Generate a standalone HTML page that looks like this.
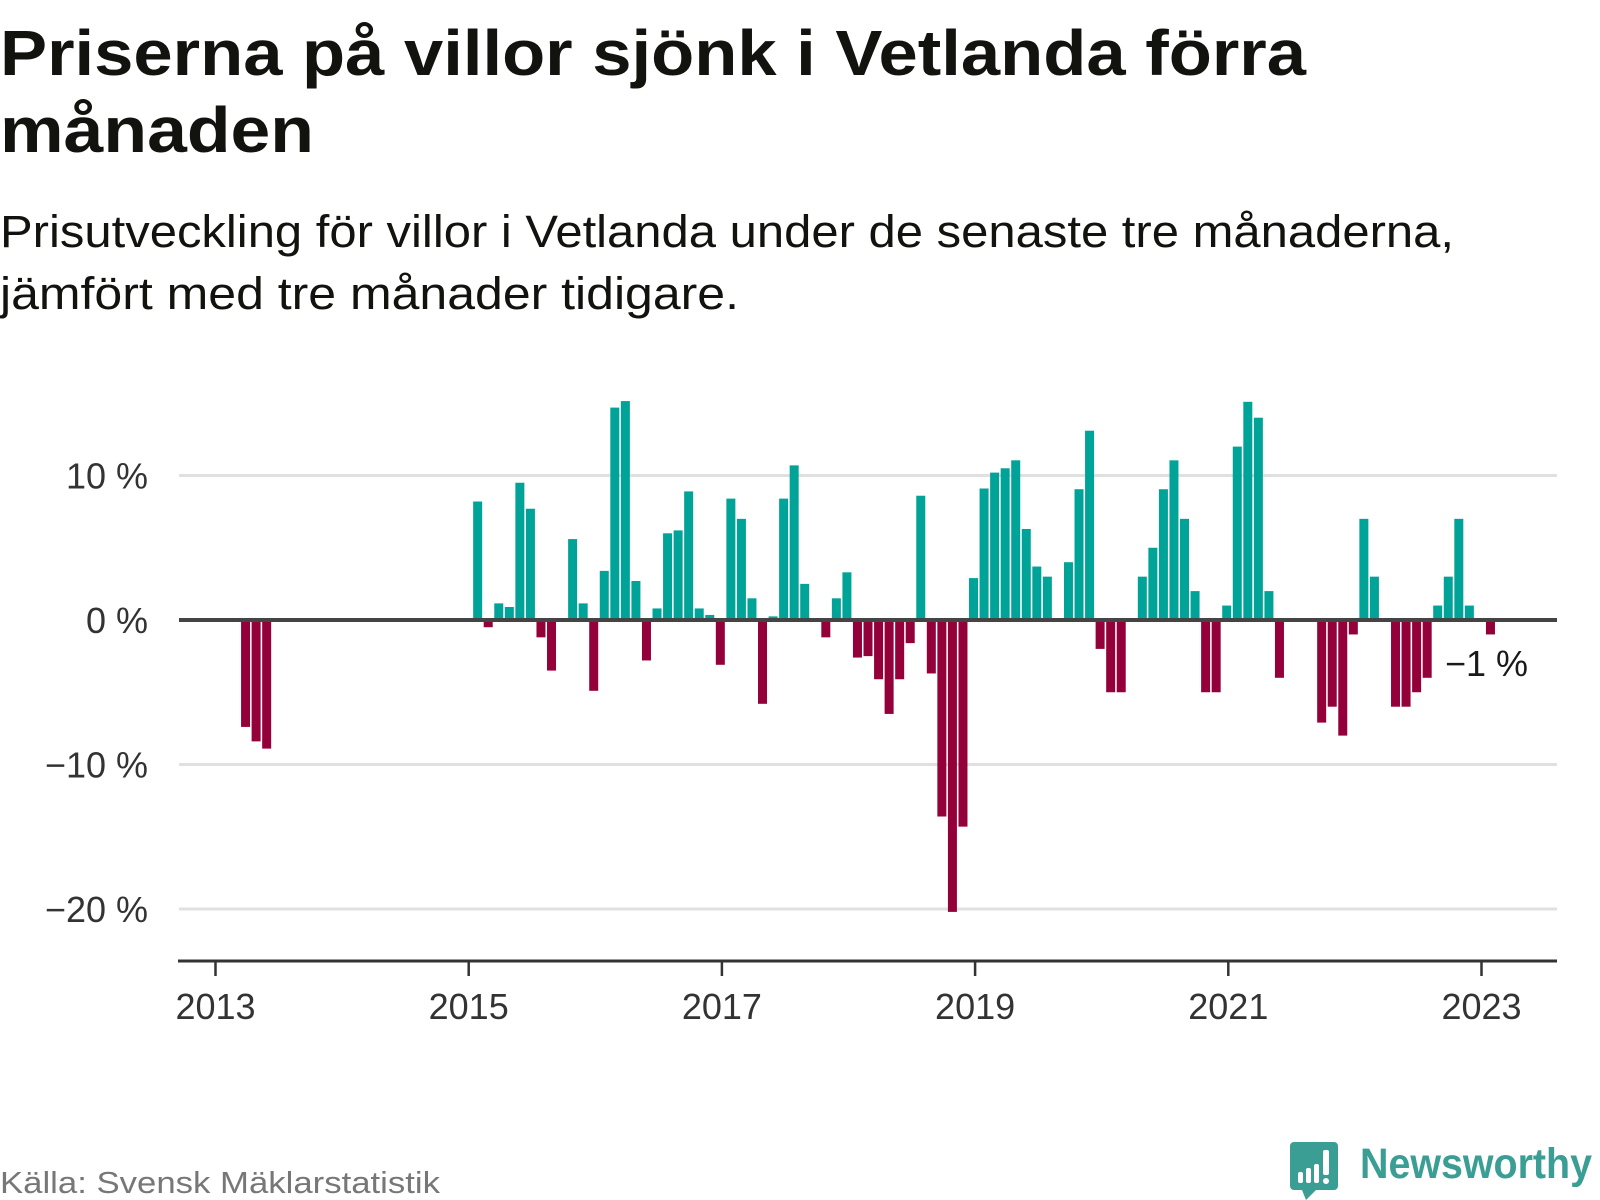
<!DOCTYPE html>
<html><head><meta charset="utf-8"><style>
html,body{margin:0;padding:0;background:#fff;}
svg{display:block;font-family:"Liberation Sans",sans-serif;}
</style></head><body>
<svg id="chart" width="1600" height="1200" viewBox="0 0 1600 1200">
<text x="0" y="75" font-size="64" font-weight="bold" fill="#12120e" textLength="1306" lengthAdjust="spacingAndGlyphs">Priserna på villor sjönk i Vetlanda förra</text>
<text x="0" y="152" font-size="64" font-weight="bold" fill="#12120e" textLength="314" lengthAdjust="spacingAndGlyphs">månaden</text>
<text x="0" y="247" font-size="45" fill="#12120e" textLength="1454" lengthAdjust="spacingAndGlyphs">Prisutveckling för villor i Vetlanda under de senaste tre månaderna,</text>
<text x="0" y="309" font-size="45" fill="#12120e" textLength="739" lengthAdjust="spacingAndGlyphs">jämfört med tre månader tidigare.</text>
<g id="grid"></g>
<g id="bars"></g>
<g id="xaxis"></g>
<text x="1528" y="676" font-size="36" fill="#1a1a1a" text-anchor="end">−1 %</text>
<text x="0" y="1193" font-size="31" fill="#777" textLength="440" lengthAdjust="spacingAndGlyphs">Källa: Svensk Mäklarstatistik</text>
<g>
<path d="M1294 1142 h40 a4 4 0 0 1 4 4 v40 a4 4 0 0 1 -4 4 h-18 l-10 10 l-4 -10 h-8 a4 4 0 0 1 -4 -4 v-40 a4 4 0 0 1 4 -4z" fill="#3a9e94"/>
<rect x="1298" y="1172" width="5" height="11" rx="2" fill="#fff"/>
<rect x="1306" y="1168" width="5" height="15" rx="2" fill="#fff"/>
<rect x="1314" y="1164" width="5" height="19" rx="2" fill="#fff"/>
<rect x="1323" y="1150" width="6" height="25" rx="2" fill="#fff"/>
<circle cx="1326" cy="1181" r="3" fill="#fff"/>
<text x="1360" y="1178" font-size="43" font-weight="bold" fill="#3a9e94" textLength="232" lengthAdjust="spacingAndGlyphs">Newsworthy</text>
</g>
</svg>
<script>
// month index counted from Jan 2013 (0)
const monthIndex = [2,3,4,24,25,26,27,28,29,30,31,33,34,35,36,37,38,39,40,41,42,43,44,45,46,47,48,49,50,51,52,53,54,55,57,58,59,60,61,62,63,64,65,66,67,68,69,70,71,72,73,74,75,76,77,78,80,81,82,83,84,85,87,88,89,90,91,92,93,94,95,96,97,98,99,100,104,105,106,107,108,109,111,112,113,114,115,116,117,118,120];
const changeValues = [-7.4,-8.4,-8.9,8.2,-0.5,1.15,0.9,9.5,7.7,-1.2,-3.5,5.6,1.15,-4.9,3.4,14.7,15.15,2.7,-2.8,0.8,6.0,6.2,8.9,0.8,0.35,-3.1,8.4,7.0,1.5,-5.8,0.25,8.4,10.7,2.5,-1.2,1.5,3.3,-2.6,-2.5,-4.1,-6.5,-4.1,-1.6,8.6,-3.7,-13.6,-20.2,-14.3,2.9,9.1,10.2,10.5,11.05,6.3,3.7,3.0,4.0,9.05,13.1,-2.0,-5.0,-5.0,3.0,5.0,9.05,11.05,7.0,2.0,-5.0,-5.0,1.0,12.0,15.1,14.0,2.0,-4.0,-7.1,-6.0,-8.0,-1.0,7.0,3.0,-6.0,-6.0,-5.0,-4.0,1.0,3.0,7.0,1.0,-1.0];
const yTicks = [10,0,-10,-20];
const yTickLabels = ["10 %","0 %","−10 %","−20 %"];
const xTickYears = [2013,2015,2017,2019,2021,2023];

const NS="http://www.w3.org/2000/svg";
const x0=215.5, perYear=126.6, perMonth=perYear/12;
const yZero=620, perPct=14.45;
const xYear = y => x0 + (y-2013)*perYear;
const xMonth = k => x0 + (k+0.85)*perMonth;
const yVal = v => yZero - v*perPct;
function mk(tag, attrs, parent){const e=document.createElementNS(NS,tag);for(const k in attrs)e.setAttribute(k,attrs[k]);parent.appendChild(e);return e;}

const grid=document.getElementById('grid');
yTicks.forEach((t,i)=>{
  if(t!==0){
    const l=mk('line',{x1:179,x2:1557,y1:yVal(t),y2:yVal(t),stroke:'#e0e0e0','stroke-width':3},grid);
    
    
  }
  const tx=mk('text',{x:148,y:yVal(t)+13,'font-size':36,fill:'#333','text-anchor':'end'},grid);
  tx.textContent=yTickLabels[i];
  
  
});

const bars=document.getElementById('bars');
monthIndex.forEach((k,i)=>{
  const v=changeValues[i];
  const cx=xMonth(k);
  const y=v>=0?yVal(v):yZero;
  const r=mk('rect',{x:cx-4.5,y:y,width:9,height:Math.abs(v)*perPct,fill:v>=0?'#00a397':'#940039'},bars);
  
  
});
const zl=mk('line',{x1:179,x2:1557,y1:yZero,y2:yZero,stroke:'#444','stroke-width':4},bars);



const xa=document.getElementById('xaxis');
const al=mk('line',{x1:178,x2:1557,y1:961,y2:961,stroke:'#333','stroke-width':3},xa);


xTickYears.forEach(yr=>{
  const tk=mk('line',{x1:xYear(yr),x2:xYear(yr),y1:961,y2:976,stroke:'#333','stroke-width':2.5},xa);
  
  
  const tx=mk('text',{x:xYear(yr),y:1019,'font-size':36,fill:'#333','text-anchor':'middle'},xa);
  tx.textContent=String(yr);
  
  
});
</script>
</body></html>
